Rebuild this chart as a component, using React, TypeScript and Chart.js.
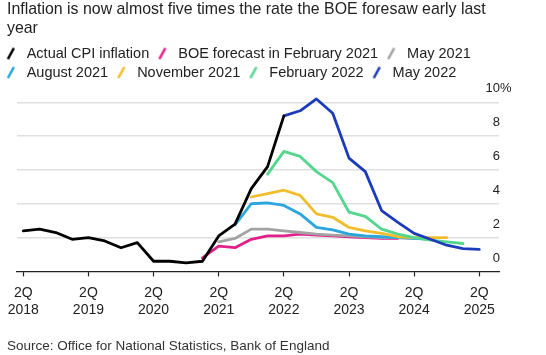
import React, { useEffect, useRef } from 'react';
import { Chart, registerables } from 'chart.js';

Chart.register(...registerables);

const FONT = '"Liberation Sans", Arial, Helvetica, sans-serif';

// Quarter index 0 = 2Q 2018 ... 28 = 2Q 2025
const tickPositions = [0, 4, 8, 12, 16, 20, 24, 28];
const tickQuarterLabels = ['2Q', '2Q', '2Q', '2Q', '2Q', '2Q', '2Q', '2Q'];
const tickYearLabels = ['2018', '2019', '2020', '2021', '2022', '2023', '2024', '2025'];
const yTicks = [0, 2, 4, 6, 8, 10];

const seriesLabels = [
  'Actual CPI inflation',
  'BOE forecast in February 2021',
  'May 2021',
  'August 2021',
  'November 2021',
  'February 2022',
  'May 2022',
];
const seriesColors = ['#000000', '#e0218a', '#a3a3a3', '#2aa6de', '#f2bd2c', '#55d68e', '#1b3bbb'];

const actualCPI = [2.4, 2.5, 2.3, 1.9, 2.0, 1.8, 1.4, 1.7, 0.6, 0.6, 0.5, 0.6, 2.1, 2.8, 4.9, 6.2, 9.2,
  null, null, null, null, null, null, null, null, null, null, null, null];
const feb2021 = [null, null, null, null, null, null, null, null, null, null, null,
  0.8, 1.5, 1.4, 1.9, 2.1, 2.1, 2.2, 2.15, 2.1, 2.05, 2.0, 1.95, 1.95,
  null, null, null, null, null];
const may2021 = [null, null, null, null, null, null, null, null, null, null, null, null,
  1.75, 1.95, 2.5, 2.5, 2.4, 2.3, 2.2, 2.15, 2.1, 2.05, 2.0, 2.0, 1.95,
  null, null, null, null];
const aug2021 = [null, null, null, null, null, null, null, null, null, null, null, null, null,
  2.75, 4.0, 4.05, 3.9, 3.4, 2.6, 2.45, 2.2, 2.1, 2.05, 2.0, 1.95, 1.9,
  null, null, null];
const nov2021 = [null, null, null, null, null, null, null, null, null, null, null, null, null, null,
  4.4, 4.6, 4.8, 4.5, 3.4, 3.2, 2.6, 2.4, 2.25, 2.05, 2.0, 2.0, 2.0,
  null, null];
const feb2022 = [null, null, null, null, null, null, null, null, null, null, null, null, null, null, null,
  5.75, 7.1, 6.8, 5.9, 5.25, 3.5, 3.25, 2.5, 2.2, 2.0, 1.85, 1.75, 1.65,
  null];
const may2022 = [null, null, null, null, null, null, null, null, null, null, null, null, null, null, null, null,
  9.2, 9.5, 10.2, 9.35, 6.7, 5.9, 3.6, 2.9, 2.25, 1.9, 1.55, 1.35, 1.3];

const seriesValues = [actualCPI, feb2021, may2021, aug2021, nov2021, feb2022, may2022];
const drawOrder = [0, 6, 5, 4, 3, 2, 1];

function makeMarker(color: string) {
  const c = document.createElement('canvas');
  c.width = 30;
  c.height = 14;
  const g = c.getContext('2d')!;
  g.strokeStyle = color;
  g.lineWidth = 2.6;
  g.beginPath();
  g.moveTo(12, 12.5);
  g.lineTo(18, 1.5);
  g.stroke();
  return c;
}

const customPlugin = {
  id: 'bbgStyle',
  afterLayout(chart: any) {
    if (chart.legend) {
      chart.legend.left -= 9.3;
      chart.legend.right -= 9.3;
    }
  },
  afterDraw(chart: any) {
    const s = chart.scales.y;
    const ctx = chart.ctx;
    const x = chart.chartArea.right + 1;
    ctx.save();
    ctx.font = `13px ${FONT}`;
    ctx.fillStyle = '#222';
    ctx.textBaseline = 'middle';
    s.ticks.forEach((t: any, i: number) => {
      const y = s.getPixelForValue(t.value) - 13.4;
      ctx.textAlign = 'right';
      ctx.fillText(String(t.value), x, y);
      if (i === s.ticks.length - 1) {
        ctx.textAlign = 'left';
        ctx.fillText('%', x, y);
      }
    });
    ctx.restore();
  },
};

export default function App() {
  const ref = useRef<HTMLCanvasElement>(null);

  useEffect(() => {
    if (!ref.current) return;
    const markers = seriesColors.map((c) => makeMarker(c));
    const datasets = seriesValues.map((vals, i) => ({
      label: seriesLabels[i],
      data: vals.map((v, idx) => ({ x: idx, y: v })),
      borderColor: seriesColors[i],
      backgroundColor: seriesColors[i],
      borderWidth: 2.8,
      pointRadius: 0,
      tension: 0,
      borderCapStyle: 'round',
      borderJoinStyle: 'round',
      yAxisID: 'y',
      xAxisID: 'x',
      order: drawOrder[i],
    }));

    const chart = new Chart(ref.current, {
      type: 'line',
      data: { datasets } as any,
      plugins: [customPlugin],
      options: {
        responsive: false,
        animation: false,
        events: [],
        layout: { padding: { left: 7, right: 0, top: 0, bottom: 0 } },
        plugins: {
          tooltip: { enabled: false },
          title: {
            display: true,
            align: 'start',
            text: ['Inflation is now almost five times the rate the BOE foresaw early last', 'year'],
            color: '#222',
            font: { family: FONT, size: 15.9, weight: 'normal', lineHeight: 19 / 15.9 },
            padding: { top: 0, bottom: 3.8 },
          },
          subtitle: {
            display: true,
            position: 'bottom',
            align: 'start',
            text: 'Source: Office for National Statistics, Bank of England',
            color: '#333',
            font: { family: FONT, size: 13.5, weight: 'normal', lineHeight: 1.2 },
            padding: { top: 11.5, bottom: 0.9 },
          },
          legend: {
            display: true,
            position: 'top',
            align: 'start',
            labels: {
              usePointStyle: true,
              pointStyleWidth: 17.25,
              padding: 4.5,
              color: '#222',
              font: { family: FONT, size: 14.5 },
              generateLabels: (ch: any) =>
                ch.data.datasets.map((ds: any, i: number) => ({
                  text: ds.label,
                  pointStyle: markers[i],
                  fillStyle: seriesColors[i],
                  strokeStyle: seriesColors[i],
                  fontColor: '#222',
                  lineWidth: 0,
                  hidden: false,
                  datasetIndex: i,
                })),
            },
          },
        },
        scales: {
          x: {
            type: 'linear',
            position: 'bottom',
            min: -0.387,
            max: 29.21,
            afterBuildTicks: (s: any) => {
              s.ticks = tickPositions.map((v) => ({ value: v }));
            },
            ticks: {
              autoSkip: false,
              maxRotation: 0,
              padding: 7.5,
              color: '#222',
              font: { family: FONT, size: 14, lineHeight: 1.25 },
              callback: (v: any) => {
                const k = tickPositions.indexOf(Number(v));
                return k >= 0 ? [tickQuarterLabels[k], tickYearLabels[k]] : '';
              },
            },
            grid: {
              display: true,
              drawOnChartArea: false,
              drawTicks: true,
              tickLength: 5,
              tickColor: '#222',
              tickWidth: 1.2,
            },
            border: { display: true, color: '#222', width: 1.2 },
          },
          y: {
            type: 'linear',
            position: 'right',
            min: 0,
            max: 10.74,
            afterBuildTicks: (s: any) => {
              s.ticks = yTicks.map((v) => ({ value: v }));
            },
            afterFit: (s: any) => {
              s.width = 47;
            },
            ticks: { display: false },
            grid: {
              drawTicks: false,
              lineWidth: 1.5,
              color: (c: any) => (c.tick && c.tick.value === 0 ? 'rgba(0,0,0,0)' : '#e0e0e0'),
            },
            border: { display: false },
          },
          yl: {
            type: 'linear',
            position: 'left',
            display: true,
            afterFit: (s: any) => {
              s.width = 10;
            },
            ticks: { display: false },
            grid: { display: false },
            border: { display: false },
          },
        },
      } as any,
    });
    return () => chart.destroy();
  }, []);

  return (
    <div style={{ position: 'absolute', left: 0, top: 0, width: 546, height: 355, background: '#fff' }}>
      <canvas ref={ref} width={546} height={355} style={{ display: 'block', width: 546, height: 355 }} />
    </div>
  );
}
